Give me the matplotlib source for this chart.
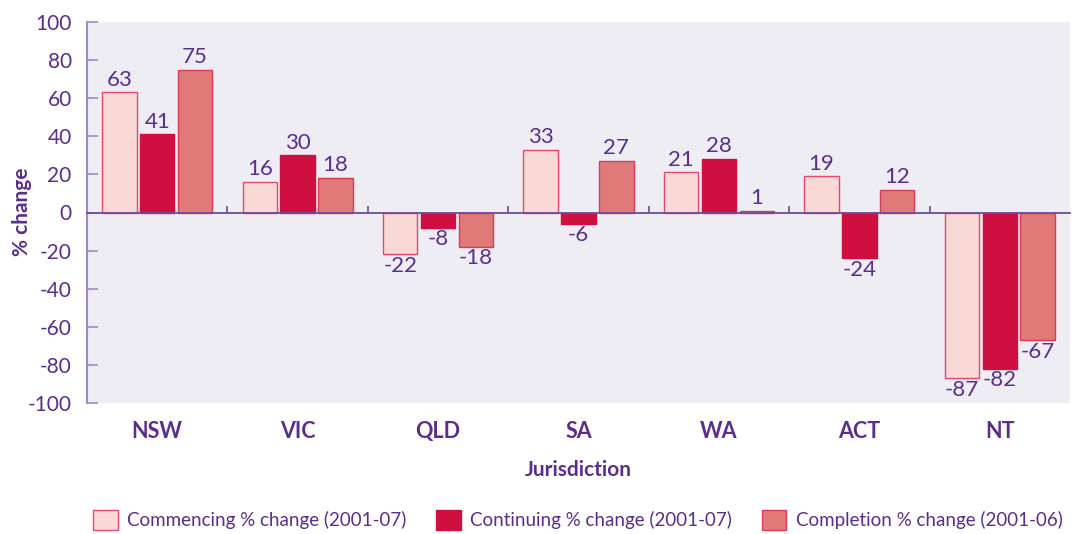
import matplotlib
matplotlib.use("Agg")
import matplotlib.pyplot as plt
import numpy as np
from matplotlib.patches import Patch
import matplotlib.transforms as mtransforms

categories = ["NSW", "VIC", "QLD", "SA", "WA", "ACT", "NT"]
commencing = [63, 16, -22, 33, 21, 19, -87]
continuing = [41, 30, -8, -6, 28, -24, -82]
completion = [75, 18, -18, 27, 1, 12, -67]
series_names = ["Commencing % change (2001-07)", "Continuing % change (2001-07)",
                "Completion % change (2001-06)"]
yticks = [100, 80, 60, 40, 20, 0, -20, -40, -60, -80, -100]

plt.rcParams['font.family'] = ['Lato', 'DejaVu Sans']
txt = "#5B2D8E"
bg = "#EEEDF4"

fig = plt.figure(figsize=(10.84, 5.34), dpi=100)
fig.patch.set_facecolor("white")
ax = fig.add_axes([87/1084, 1-403/534, (1070-87)/1084, (403-22)/534])
ax.set_facecolor(bg)

x = np.arange(len(categories))
w = 0.245
off = 0.27
styles = [
    dict(color="#F8D9D6", edgecolor="#E5476E"),
    dict(color="#CF0F3F", edgecolor="#CF0F3F"),
    dict(color="#E07A78", edgecolor="#D83A58"),
]
for i, (vals, st) in enumerate(zip([commencing, continuing, completion], styles)):
    xs = x + (i - 1) * off
    ax.bar(xs, vals, width=w, facecolor=st["color"], edgecolor=st["edgecolor"], linewidth=1.0, zorder=3)
    for xi, v in zip(xs, vals):
        if v >= 0:
            ax.annotate(str(v), (xi, v), xytext=(0, 2), textcoords="offset points",
                        ha="center", va="bottom", fontsize=16, color=txt)
        else:
            ax.annotate(str(v), (xi, v), xytext=(0, -1), textcoords="offset points",
                        ha="center", va="top", fontsize=16, color=txt)

ax.set_xlim(-0.5, len(categories) - 0.5)
ax.set_ylim(-100, 100)
ax.set_yticks(yticks)
ax.set_yticklabels([str(t) for t in yticks])
ax.tick_params(axis='y', direction='in', length=8, width=1.2, color="#9F8BC2",
               labelsize=15, labelcolor=txt, pad=11)

for s in ["top", "right"]:
    ax.spines[s].set_visible(False)
ax.spines["left"].set_color("#9F8BC2")
ax.spines["left"].set_linewidth(1.5)
ax.spines["bottom"].set_position(('data', 0))
ax.spines["bottom"].set_color("#6A4C9C")
ax.spines["bottom"].set_linewidth(1.3)
ax.spines["bottom"].set_zorder(4)
ax.set_xticks(x)
ax.set_xticklabels([])
ax.tick_params(axis='x', which='major', length=0)
ax.set_xticks(np.arange(0.5, len(categories) - 1, 1), minor=True)
ax.tick_params(axis='x', which='minor', direction='in', length=5, width=1.2, color="#6A4C9C")

trans = mtransforms.blended_transform_factory(ax.transData, ax.transAxes)
for xi, c in zip(x, categories):
    ax.text(xi, -0.075, c, transform=trans, ha="center", va="center",
            fontsize=15.5, color=txt, fontweight="bold")

fig.text((87 + 1070) / 2 / 1084, 1 - 470/534, "Jurisdiction", ha="center", va="center",
         fontsize=15, color=txt, fontweight="bold")
fig.text(22/1084, 1 - 212/534, "% change", ha="center", va="center", rotation=90,
         fontsize=15, color=txt, fontweight="bold")

handles = [Patch(facecolor=st["color"], edgecolor=st["edgecolor"], linewidth=1.0) for st in styles]
leg = fig.legend(handles, series_names, loc="center", bbox_to_anchor=(578/1084, 1 - 520/534),
                 ncol=3, frameon=False, fontsize=13.5, handlelength=1.3, handleheight=1.3,
                 handletextpad=0.5, columnspacing=1.6)
for t in leg.get_texts():
    t.set_color(txt)

fig.savefig("out.png", dpi=100, facecolor="white")
